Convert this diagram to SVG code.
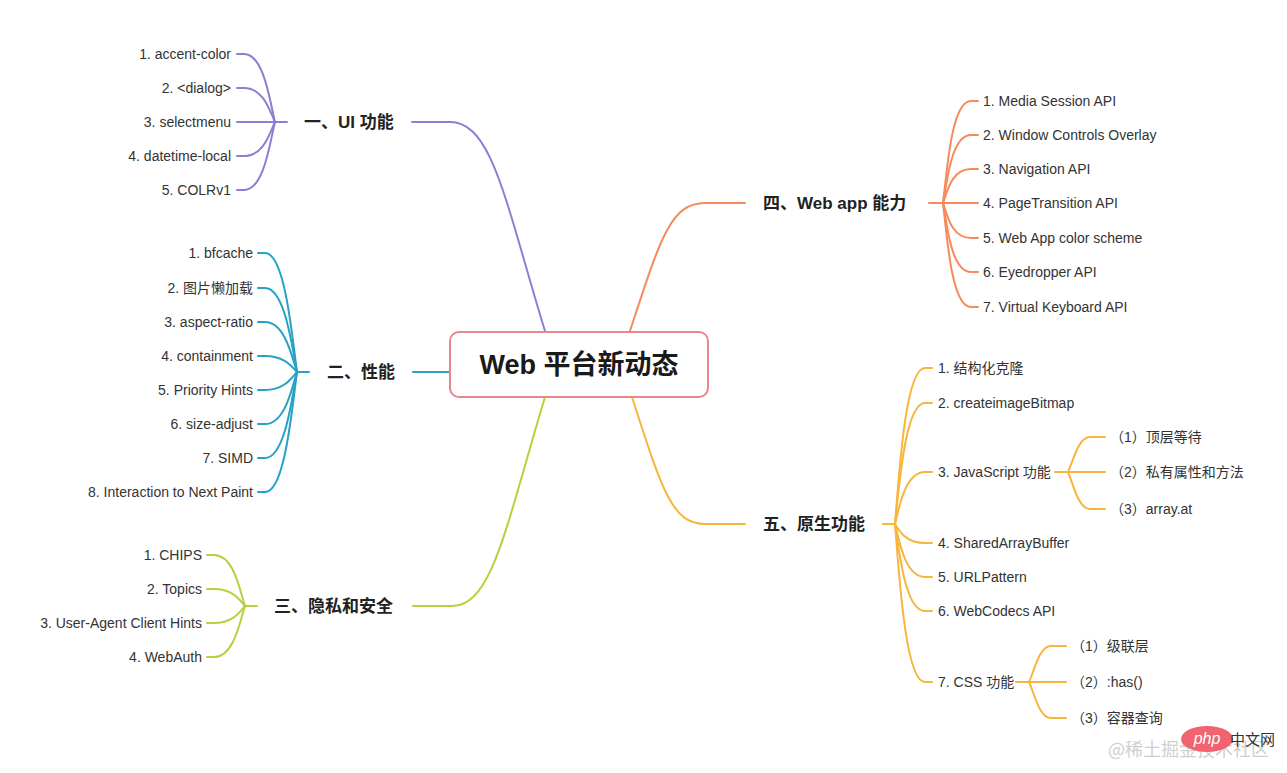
<svg xmlns="http://www.w3.org/2000/svg" width="1287" height="773" viewBox="0 0 1287 773">
<style>
.t{font-family:"Liberation Sans","Noto Sans CJK SC",sans-serif;font-size:14px;fill:#333}
.b{font-family:"Liberation Sans","Noto Sans CJK SC",sans-serif;font-size:17px;font-weight:bold;fill:#222}
.e{text-anchor:end}
.c{fill:none;stroke-width:2;stroke-linecap:round}
.pu{stroke:#8a80d2}.te{stroke:#25a2c6}.gr{stroke:#b4d23e}.or{stroke:#f78a5c}.am{stroke:#f8b53c}
</style>
<rect width="1287" height="773" fill="#fff"/>
<g id="connectors">
<path class="c pu" d="M412,122 H450 C492,122 505,200 545,331"/>
<path class="c te" d="M413,372 H449"/>
<path class="c gr" d="M413,606 H452 C492,606 505,530 545,397"/>
<path class="c or" d="M630,331 C660,240 670,203 705,203 H745"/>
<path class="c am" d="M632,397 C662,490 672,524 705,524 H745"/>
<!-- UI -->
<path class="c pu" d="M275,122 H287"/>
<path class="c pu" d="M237,54 H244 C264,54 270,102 275,122"/>
<path class="c pu" d="M237,88 H244 C264,88 270,112 275,122"/>
<path class="c pu" d="M237,122 H275"/>
<path class="c pu" d="M237,156 H244 C264,156 270,132 275,122"/>
<path class="c pu" d="M237,190 H244 C264,190 270,142 275,122"/>
<!-- perf -->
<path class="c te" d="M297,372 H309"/>
<path class="c te" d="M258,253 H265 C285,253 292,336 297,372"/>
<path class="c te" d="M258,288 H265 C285,288 292,347 297,372"/>
<path class="c te" d="M258,322 H265 C285,322 292,357 297,372"/>
<path class="c te" d="M258,356 H265 C285,356 292,367 297,372"/>
<path class="c te" d="M258,390 H265 C285,390 292,377 297,372"/>
<path class="c te" d="M258,424 H265 C285,424 292,388 297,372"/>
<path class="c te" d="M258,458 H265 C285,458 292,398 297,372"/>
<path class="c te" d="M258,492 H265 C285,492 292,408 297,372"/>
<!-- privacy -->
<path class="c gr" d="M245,606 H257"/>
<path class="c gr" d="M207,555 H214 C234,555 240,591 245,606"/>
<path class="c gr" d="M207,589 H214 C234,589 240,601 245,606"/>
<path class="c gr" d="M207,623 H214 C234,623 240,611 245,606"/>
<path class="c gr" d="M207,657 H214 C234,657 240,621 245,606"/>
<!-- web app -->
<path class="c or" d="M929,203 H978"/>
<path class="c or" d="M978,101 H971 C951,101 947,173 943,203"/>
<path class="c or" d="M978,135 H971 C951,135 947,183 943,203"/>
<path class="c or" d="M978,169 H971 C951,169 947,193 943,203"/>
<path class="c or" d="M978,238 H971 C951,238 947,214 943,203"/>
<path class="c or" d="M978,272 H971 C951,272 947,224 943,203"/>
<path class="c or" d="M978,307 H971 C951,307 947,234 943,203"/>
<!-- native -->
<path class="c am" d="M883,524 H895"/>
<path class="c am" d="M932,368 H925 C905,368 899,477 895,524"/>
<path class="c am" d="M932,403 H925 C905,403 899,488 895,524"/>
<path class="c am" d="M932,472 H925 C905,472 899,508 895,524"/>
<path class="c am" d="M932,543 H925 C905,543 899,530 895,524"/>
<path class="c am" d="M932,577 H925 C905,577 899,540 895,524"/>
<path class="c am" d="M932,611 H925 C905,611 899,550 895,524"/>
<path class="c am" d="M932,682 H925 C905,682 899,571 895,524"/>
<!-- js sub -->
<path class="c am" d="M1055,472 H1105"/>
<path class="c am" d="M1105,437 H1090 C1078,437 1073,462 1068,472"/>
<path class="c am" d="M1105,509 H1090 C1078,509 1073,483 1068,472"/>
<!-- css sub -->
<path class="c am" d="M1016,682 H1066"/>
<path class="c am" d="M1066,646 H1051 C1039,646 1034,672 1029,682"/>
<path class="c am" d="M1066,718 H1051 C1039,718 1034,692 1029,682"/>
</g>
<g id="center">
<rect x="450" y="332" width="258" height="65" rx="9" fill="#fff" stroke="#e9868b" stroke-width="2"/>
<text x="579" y="374" text-anchor="middle" font-family="Liberation Sans,'Noto Sans CJK SC',sans-serif" font-size="27" font-weight="bold" fill="#1a1a1a">Web 平台新动态</text>
</g>
<g id="ui">
<text class="b" x="304" y="128">一、UI 功能</text>
<text class="t e" x="231" y="59">1. accent-color</text>
<text class="t e" x="231" y="93">2. &lt;dialog&gt;</text>
<text class="t e" x="231" y="127">3. selectmenu</text>
<text class="t e" x="231" y="161">4. datetime-local</text>
<text class="t e" x="231" y="195">5. COLRv1</text>
</g>
<g id="perf">
<text class="b" x="327" y="378">二、性能</text>
<text class="t e" x="253" y="258">1. bfcache</text>
<text class="t e" x="253" y="293">2. 图片懒加载</text>
<text class="t e" x="253" y="327">3. aspect-ratio</text>
<text class="t e" x="253" y="361">4. containment</text>
<text class="t e" x="253" y="395">5. Priority Hints</text>
<text class="t e" x="253" y="429">6. size-adjust</text>
<text class="t e" x="253" y="463">7. SIMD</text>
<text class="t e" x="253" y="497">8. Interaction to Next Paint</text>
</g>
<g id="privacy">
<text class="b" x="274" y="612">三、隐私和安全</text>
<text class="t e" x="202" y="560">1. CHIPS</text>
<text class="t e" x="202" y="594">2. Topics</text>
<text class="t e" x="202" y="628">3. User-Agent Client Hints</text>
<text class="t e" x="202" y="662">4. WebAuth</text>
</g>
<g id="webapp">
<text class="b" x="763" y="209">四、Web app 能力</text>
<text class="t" x="983" y="106">1. Media Session API</text>
<text class="t" x="983" y="140">2. Window Controls Overlay</text>
<text class="t" x="983" y="174">3. Navigation API</text>
<text class="t" x="983" y="208">4. PageTransition API</text>
<text class="t" x="983" y="243">5. Web App color scheme</text>
<text class="t" x="983" y="277">6. Eyedropper API</text>
<text class="t" x="983" y="312">7. Virtual Keyboard API</text>
</g>
<g id="native">
<text class="b" x="763" y="530">五、原生功能</text>
<text class="t" x="938" y="373">1. 结构化克隆</text>
<text class="t" x="938" y="408">2. createimageBitmap</text>
<text class="t" x="938" y="477">3. JavaScript 功能</text>
<text class="t" x="938" y="548">4. SharedArrayBuffer</text>
<text class="t" x="938" y="582">5. URLPattern</text>
<text class="t" x="938" y="616">6. WebCodecs API</text>
<text class="t" x="938" y="687">7. CSS 功能</text>
</g>
<g id="js">
<text class="t" x="1110" y="442">（1）顶层等待</text>
<text class="t" x="1110" y="477">（2）私有属性和方法</text>
<text class="t" x="1110" y="514">（3）array.at</text>
</g>
<g id="css">
<text class="t" x="1071" y="651">（1）级联层</text>
<text class="t" x="1071" y="687">（2）:has()</text>
<text class="t" x="1071" y="723">（3）容器查询</text>
</g>
<g id="watermark">
<text x="1108" y="756" font-family="'Noto Sans CJK SC',sans-serif" font-size="18" fill="#cfcfcf">@稀土掘金技术社区</text>
<ellipse cx="1207" cy="739" rx="26" ry="13" fill="#f0636f"/>
<text x="1207" y="744" text-anchor="middle" font-family="Liberation Sans,sans-serif" font-size="16" font-style="italic" fill="#fff">php</text>
<text x="1230" y="745" font-family="'Noto Sans CJK SC',sans-serif" font-size="15" fill="#333">中文网</text>
</g>
</svg>
